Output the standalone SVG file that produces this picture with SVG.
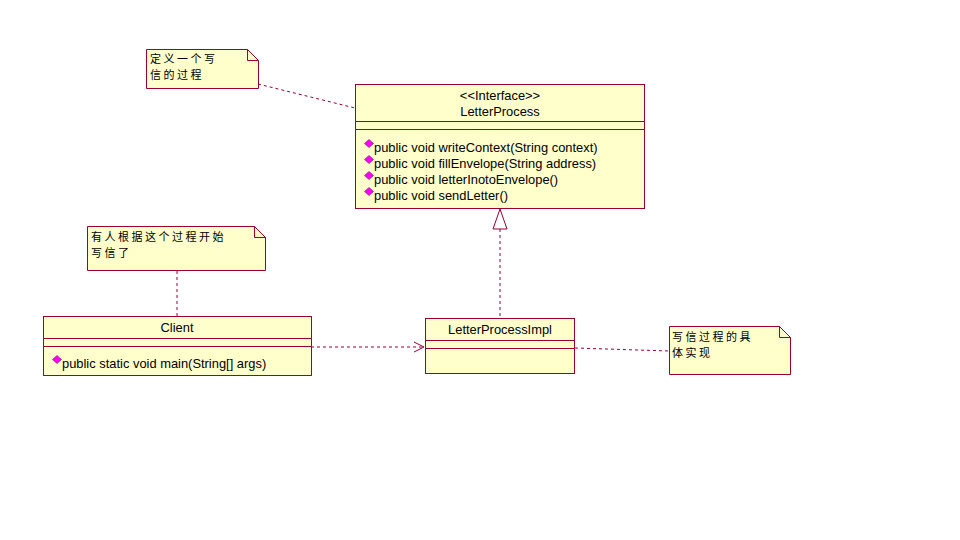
<svg xmlns="http://www.w3.org/2000/svg" width="960" height="540" viewBox="0 0 960 540">
<defs>
<style>
.box{fill:#ffffcc;stroke:#990033;stroke-width:1}
.ln{stroke:#990033;stroke-width:1;fill:none}
.dash{stroke:#990033;stroke-width:1;fill:none;stroke-dasharray:3,3}
.t{font-family:"Liberation Sans","DejaVu Sans",sans-serif;font-size:12.9px;fill:#000}
.c{font-family:"Noto Sans CJK SC",sans-serif;font-size:11px;letter-spacing:2.5px;fill:#000}
.dm{fill:#ff00ff;stroke:#990066;stroke-width:0.6}
</style>
<marker id="open" markerWidth="12" markerHeight="12" refX="11" refY="6" orient="auto" markerUnits="userSpaceOnUse">
<path d="M1,1 L11,6 L1,11" class="ln"/>
</marker>
</defs>
<rect width="960" height="540" fill="#fff"/>
<g id="connectors">
<path class="dash" d="M258,84 L355,108"/>
<path class="dash" d="M177,271 L177,316"/>
<path class="dash" d="M311,347 L424,347" marker-end="url(#open)"/>
<path class="dash" d="M500,229 L500,318"/>
<path class="ln" d="M500,209 L507,229 L493,229 Z" fill="#fff"/>
<path class="dash" d="M575,348 L669,351"/>
</g>
<g id="note1">
<path class="box" d="M146.5,49.5 H247.5 L258.5,60.5 V88.5 H146.5 Z"/>
<path class="ln" d="M247.5,49.5 V60.5 H258.5"/>
<text class="c" x="150" y="63">定义一个写</text>
<text class="c" x="150" y="79">信的过程</text>
</g>
<g id="LetterProcess">
<rect class="box" x="355.5" y="84.5" width="289" height="124"/>
<path class="ln" d="M355.5,121.5 H644.5 M355.5,129.5 H644.5"/>
<text class="t" x="500" y="100" text-anchor="middle">&lt;&lt;Interface&gt;&gt;</text>
<text class="t" x="500" y="116" text-anchor="middle">LetterProcess</text>
<path class="dm" d="M369,139.5 L373.5,143.5 L369,147.5 L364.5,143.5 Z"/>
<text class="t" x="374" y="152">public void writeContext(String context)</text>
<path class="dm" d="M369,155.5 L373.5,159.5 L369,163.5 L364.5,159.5 Z"/>
<text class="t" x="374" y="168">public void fillEnvelope(String address)</text>
<path class="dm" d="M369,171.5 L373.5,175.5 L369,179.5 L364.5,175.5 Z"/>
<text class="t" x="374" y="184">public void letterInotoEnvelope()</text>
<path class="dm" d="M369,187.5 L373.5,191.5 L369,195.5 L364.5,191.5 Z"/>
<text class="t" x="374" y="200">public void sendLetter()</text>
</g>
<g id="note2">
<path class="box" d="M87.5,226.5 H254.5 L265.5,237.5 V270.5 H87.5 Z"/>
<path class="ln" d="M254.5,226.5 V237.5 H265.5"/>
<text class="c" x="91" y="241">有人根据这个过程开始</text>
<text class="c" x="91" y="257">写信了</text>
</g>
<g id="Client">
<rect class="box" x="43.5" y="316.5" width="268" height="59"/>
<path class="ln" d="M43.5,338.5 H311.5 M43.5,346.5 H311.5"/>
<text class="t" x="177" y="332" text-anchor="middle">Client</text>
<path class="dm" d="M57,355.5 L61.5,359.5 L57,363.5 L52.5,359.5 Z"/>
<text class="t" x="62" y="368">public static void main(String[] args)</text>
</g>
<g id="LetterProcessImpl">
<rect class="box" x="425.5" y="318.5" width="149" height="55"/>
<path class="ln" d="M425.5,340.5 H574.5 M425.5,348.5 H574.5"/>
<text class="t" x="500" y="334" text-anchor="middle">LetterProcessImpl</text>
</g>
<g id="note3">
<path class="box" d="M669.5,326.5 H779.5 L790.5,337.5 V374.5 H669.5 Z"/>
<path class="ln" d="M779.5,326.5 V337.5 H790.5"/>
<text class="c" x="672" y="341">写信过程的具</text>
<text class="c" x="672" y="357">体实现</text>
</g>
</svg>
